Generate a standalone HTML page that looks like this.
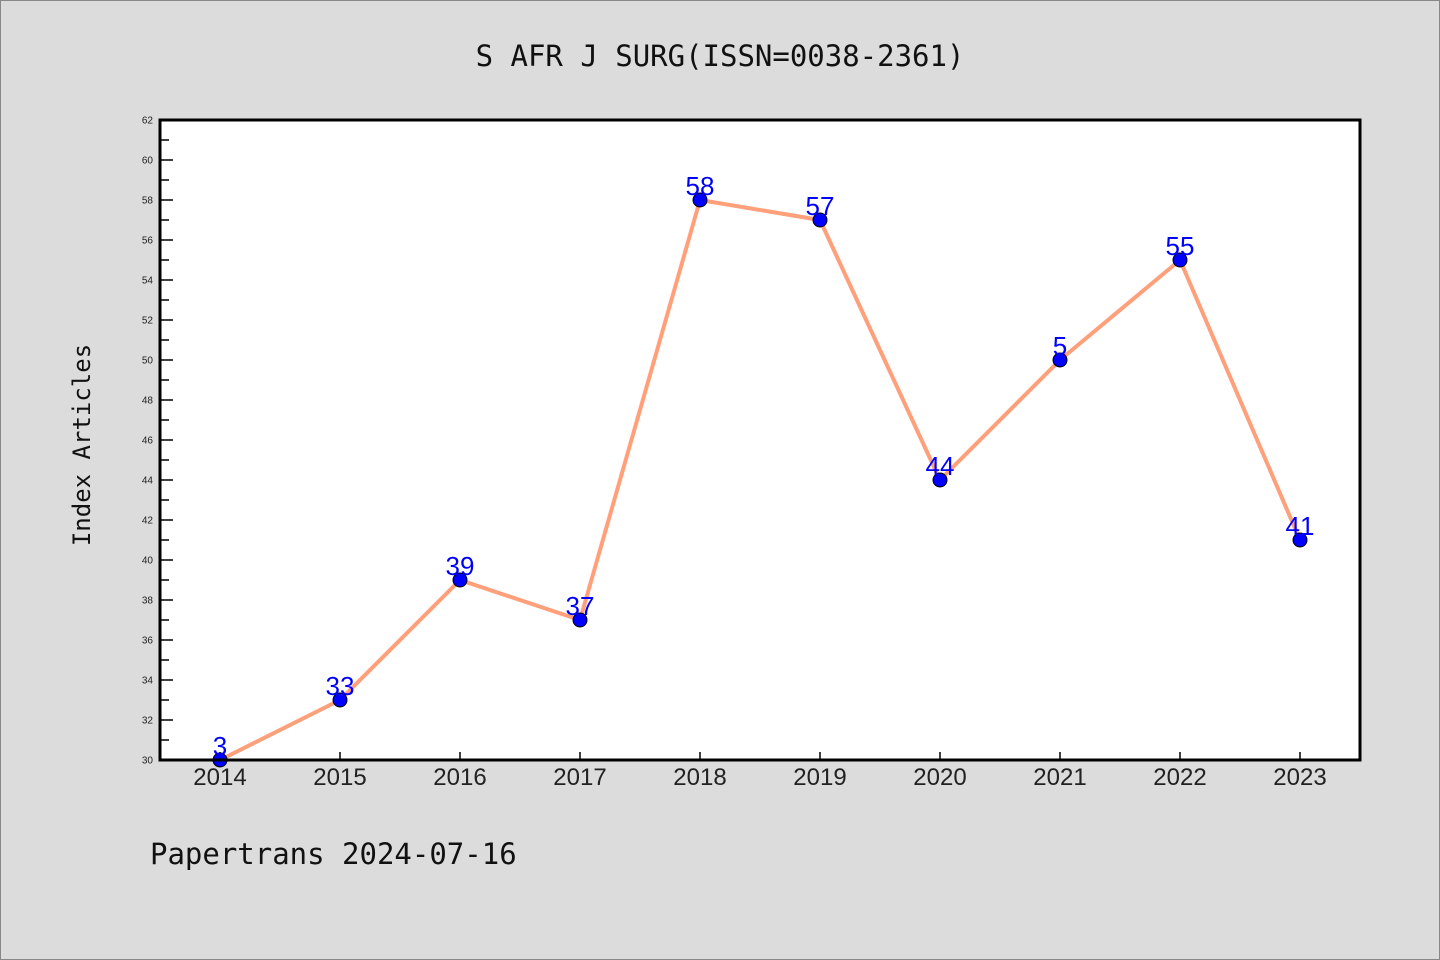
<!DOCTYPE html>
<html><head><meta charset="utf-8"><style>
body{margin:0;background:#dcdcdc;}
svg{display:block;font-family:"Liberation Sans","DejaVu Sans",sans-serif;}
</style></head><body>
<svg id="c" width="1440" height="960">
<rect x="0.5" y="0.5" width="1439" height="959" fill="#dcdcdc" stroke="#888"/>
<text x="720" y="66" text-anchor="middle" font-size="29" font-family="'DejaVu Sans Mono','Liberation Mono',monospace" fill="#111">S AFR J SURG(ISSN=0038-2361)</text>
<text transform="translate(90,445) rotate(-90)" text-anchor="middle" font-size="24" font-family="'DejaVu Sans Mono','Liberation Mono',monospace" fill="#111">Index Articles</text>
<text x="150" y="864" font-size="29" font-family="'DejaVu Sans Mono','Liberation Mono',monospace" fill="#111">Papertrans 2024-07-16</text>
<rect x="160" y="120" width="1200" height="640" fill="#fff"/>
<g id="ticks"></g>
<g id="series"></g>
<rect x="160" y="120" width="1200" height="640" fill="none" stroke="#000" stroke-width="3"/>
</svg>
<script>
const years = ["2014","2015","2016","2017","2018","2019","2020","2021","2022","2023"];
const values = [30,33,39,37,58,57,44,50,55,41];
const pointLabels = ["3","33","39","37","58","57","44","5","55","41"];
const yTicks = [30,32,34,36,38,40,42,44,46,48,50,52,54,56,58,60,62];
const yMin = 30, yMax = 62;
const NS = "http://www.w3.org/2000/svg";
function xs(i){return 220 + i*120;}
function ys(v){return 760 - (v - yMin)/(yMax - yMin)*640;}
function mk(tag, attrs, parent){const e=document.createElementNS(NS,tag);for(const k in attrs)e.setAttribute(k,attrs[k]);parent.appendChild(e);return e;}
const tg=document.getElementById('ticks');
yTicks.forEach(v=>{
  const y=ys(v);
  const t=mk('line',{x1:160,x2:173,y1:y,y2:y,stroke:'#000','stroke-width':1.5},tg);
  
  
  const l=mk('text',{x:153,y:y+3.5,'text-anchor':'end','font-size':10,fill:'#222'},tg);
  l.textContent=v;
  
  
  if(v<yMax){
    const m=mk('line',{x1:160,x2:169,y1:ys(v+1),y2:ys(v+1),stroke:'#000','stroke-width':1.5},tg);
    
    
  }
});
years.forEach((yr,i)=>{
  const x=xs(i);
  const t=mk('line',{x1:x,x2:x,y1:760,y2:752,stroke:'#000','stroke-width':1.5},tg);
  
  
  const l=mk('text',{x:x,y:785,'text-anchor':'middle','font-size':24,fill:'#222'},tg);
  l.textContent=yr;
  
  
});
const sg=document.getElementById('series');
const line=mk('polyline',{points:values.map((v,i)=>xs(i)+','+ys(v)).join(' '),fill:'none',stroke:'#ffa07a','stroke-width':4,'stroke-linejoin':'round'},sg);


values.forEach((v,i)=>{
  const c=mk('circle',{cx:xs(i),cy:ys(v),r:7,fill:'#0000ff',stroke:'#000','stroke-width':1},sg);
  
  
  const l=mk('text',{x:xs(i),y:ys(v)-5,'text-anchor':'middle','font-size':26,fill:'#0000ff'},sg);
  l.textContent=pointLabels[i];
  
  
});
</script>
</body></html>
